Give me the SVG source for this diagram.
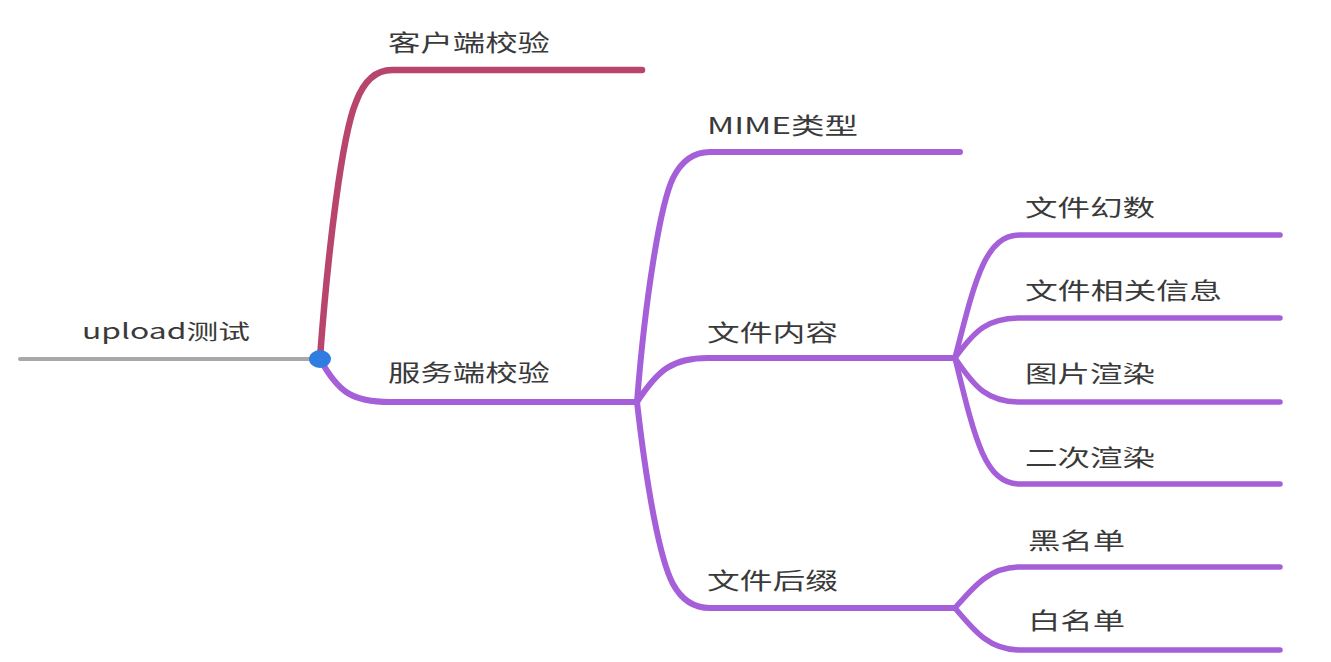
<svg xmlns="http://www.w3.org/2000/svg" width="1331" height="662" viewBox="0 0 1331 662">
<style>
.t{font-family:"Noto Sans CJK SC","Liberation Sans",sans-serif;font-size:23px;fill:#3a3a3a;font-weight:400}
.c{fill:none;stroke-linecap:round}
.pk{stroke:#b8456e;stroke-width:6.5}
.pu{stroke:#a45fd9;stroke-width:6}
.pu2{stroke:#a45fd9;stroke-width:5.5}
.gr{stroke:#a8a8a8;stroke-width:4}
</style>
<rect width="1331" height="662" fill="#fff"/>
<g id="connectors">
<path class="c gr" d="M20,359 H318"/>
<path class="c pk" d="M320,358 C328,250 342,135 356,102 Q368,70 392,70 H642"/>
<path class="c pu" d="M320,359 C338,392 352,402 390,402 H637"/>
<path class="c pu" d="M637,402 C645,300 660,205 673,178 Q686,152 710,152 H960"/>
<path class="c pu" d="M637,402 C658,370 672,358 708,358 H955"/>
<path class="c pu" d="M637,402 C647,490 660,560 673,584 Q686,608 710,608 H955"/>
<path class="c pu2" d="M955,358 C975,280 985,235 1020,235 H1280"/>
<path class="c pu2" d="M955,358 C975,330 988,318 1020,318 H1280"/>
<path class="c pu2" d="M955,358 C975,388 988,402 1020,402 H1280"/>
<path class="c pu2" d="M955,358 C975,440 985,484 1020,484 H1280"/>
<path class="c pu2" d="M955,608 C975,585 990,567 1020,567 H1280"/>
<path class="c pu2" d="M955,608 C975,632 990,650 1020,650 H1280"/>
</g>
<g id="root"><text class="t" x="82" y="339" textLength="168" lengthAdjust="spacingAndGlyphs" style="font-size:21px">upload测试</text><ellipse cx="320" cy="359" rx="11" ry="9" fill="#2f7de1"/></g>
<g id="client"><text class="t" x="388" y="51" textLength="162" lengthAdjust="spacingAndGlyphs">客户端校验</text></g>
<g id="server"><text class="t" x="388" y="381" textLength="162" lengthAdjust="spacingAndGlyphs">服务端校验</text></g>
<g id="mime"><text class="t" x="707" y="134" textLength="151" lengthAdjust="spacingAndGlyphs">MIME类型</text></g>
<g id="content"><text class="t" x="707" y="341" textLength="131" lengthAdjust="spacingAndGlyphs">文件内容</text></g>
<g id="suffix"><text class="t" x="707" y="589" textLength="131" lengthAdjust="spacingAndGlyphs">文件后缀</text></g>
<g id="magic"><text class="t" x="1025" y="216" textLength="130" lengthAdjust="spacingAndGlyphs">文件幻数</text></g>
<g id="info"><text class="t" x="1025" y="299" textLength="197" lengthAdjust="spacingAndGlyphs">文件相关信息</text></g>
<g id="render"><text class="t" x="1025" y="382" textLength="130" lengthAdjust="spacingAndGlyphs">图片渲染</text></g>
<g id="rerender"><text class="t" x="1025" y="466" textLength="130" lengthAdjust="spacingAndGlyphs">二次渲染</text></g>
<g id="black"><text class="t" x="1028" y="549" textLength="97" lengthAdjust="spacingAndGlyphs">黑名单</text></g>
<g id="white"><text class="t" x="1028" y="629" textLength="97" lengthAdjust="spacingAndGlyphs">白名单</text></g>
</svg>
